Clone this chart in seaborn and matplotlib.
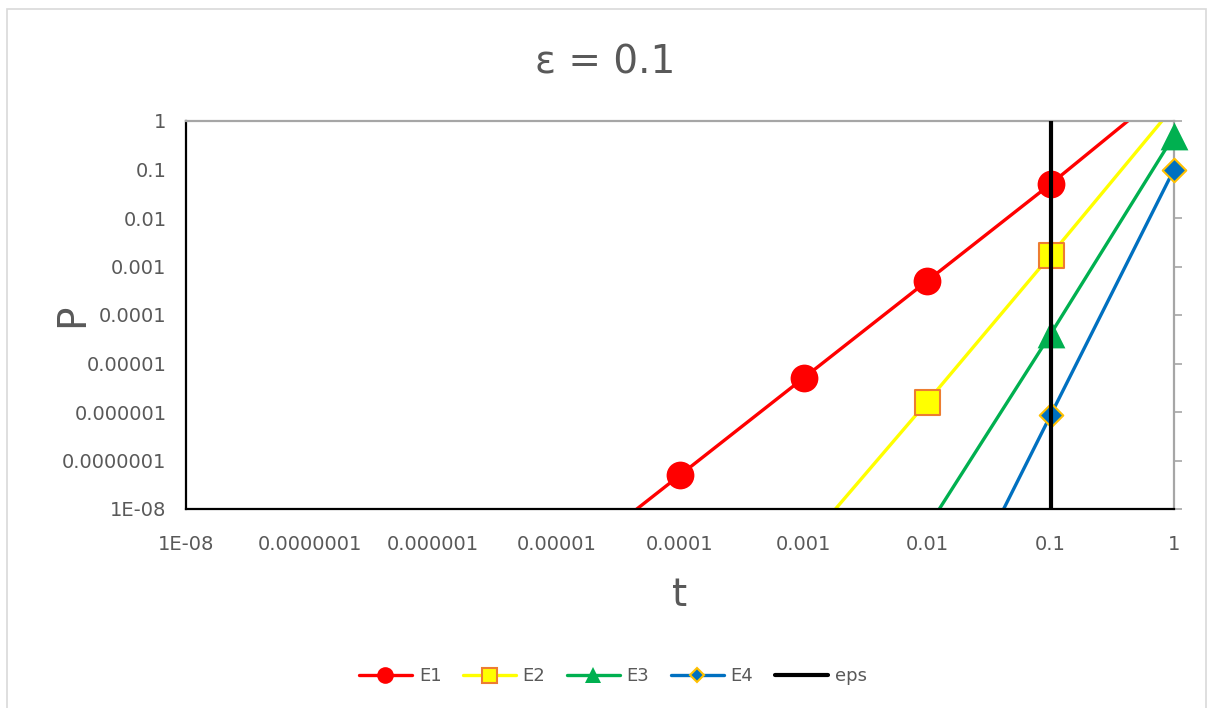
import matplotlib
matplotlib.use('Agg')
import matplotlib.pyplot as plt
import seaborn as sns
from matplotlib.lines import Line2D
from matplotlib.patches import Rectangle

# data (log-log)
t_e1 = [1e-5, 1e-4, 1e-3, 1e-2, 1e-1, 1]
p_e1 = [5e-10, 5e-8, 5e-6, 5e-4, 0.05, 6]
t_e2 = [1e-3, 1e-2, 1e-1, 1]
p_e2 = [1.7e-9, 1.6e-6, 1.7e-3, 2]
t_e3 = [1e-2, 1e-1, 1]
p_e3 = [4e-9, 4e-5, 0.5]
t_e4 = [1e-2, 1e-1, 1]
p_e4 = [7e-12, 8.5e-7, 0.1]
t_eps = [0.1, 0.1]
p_eps = [1e-8, 1]

tick_vals = [1e-8, 1e-7, 1e-6, 1e-5, 1e-4, 1e-3, 1e-2, 1e-1, 1]
tick_labels = ['1E-08', '0.0000001', '0.000001', '0.00001', '0.0001',
               '0.001', '0.01', '0.1', '1']

sns.set_style('white')
plt.rcParams['font.family'] = ['DejaVu Sans']
grey = '#595959'

fig, ax = plt.subplots(figsize=(12.1, 7.08), dpi=100)
fig.subplots_adjust(left=186/1210, right=1174/1210, top=1-121/708, bottom=1-509/708)

series = [
    ('E1', t_e1, p_e1, dict(color='#FF0000', marker='o', ms=20, mec='#FF0000', mew=0)),
    ('E2', t_e2, p_e2, dict(color='#FFFF00', marker='s', ms=18, mec='#ED7D31', mew=1.5)),
    ('E3', t_e3, p_e3, dict(color='#00B050', marker='^', ms=20, mec='#00B050', mew=0)),
    ('E4', t_e4, p_e4, dict(color='#0070C0', marker='D', ms=12, mec='#FFC000', mew=1.5)),
]

handles = []
for name, t, p, st in series:
    sns.lineplot(x=t, y=p, ax=ax, color=st['color'], lw=2.4, sort=False, estimator=None)
    # Excel shows markers only inside the plot area, but unclipped at the edges
    inside = [(a, b) for a, b in zip(t, p) if 1e-8 <= a <= 1 and 1e-8 <= b <= 1]
    sns.scatterplot(x=[a for a, b in inside], y=[b for a, b in inside], ax=ax,
                    color=st['color'], marker=st['marker'], s=st['ms']**2,
                    edgecolor=st['mec'], linewidth=st['mew'], clip_on=False, zorder=3)
    handles.append(Line2D([], [], color=st['color'], lw=2.4, marker=st['marker'],
                          ms=st['ms']*0.6, mfc=st['color'], mec=st['mec'], mew=st['mew']))

sns.lineplot(x=t_eps, y=p_eps, ax=ax, color='black', lw=3, sort=False,
             estimator=None, zorder=4)
handles.append(Line2D([], [], color='black', lw=3))

ax.set_xscale('log')
ax.set_yscale('log')
ax.set_xlim(1e-8, 1)
ax.set_ylim(1e-8, 1)
ax.set_xticks(tick_vals, tick_labels)
ax.set_yticks(tick_vals, tick_labels)
ax.minorticks_off()
ax.tick_params(axis='both', labelsize=14, labelcolor=grey)
ax.tick_params(axis='x', bottom=False, pad=15)
ax.tick_params(axis='y', left=False, right=True, direction='out',
               length=6, color='#A6A6A6', width=1.2, pad=8)

for side in ['left', 'bottom']:
    ax.spines[side].set_color('black')
    ax.spines[side].set_linewidth(1.6)
for side in ['top', 'right']:
    ax.spines[side].set_color('#A6A6A6')
    ax.spines[side].set_linewidth(1.6)

fig.text(605/1210, 1-62/708, 'ε = 0.1', fontsize=28, color=grey, ha='center', va='center')
ax.set_xlabel('t', fontsize=28, color=grey)
ax.xaxis.set_label_coords(0.5, -(595-509)/388)
ax.xaxis.label.set_va('center')
ax.set_ylabel('P', fontsize=28, color=grey)
ax.yaxis.set_label_coords(-(186-72)/988, 0.5)
ax.yaxis.label.set_va('center')

ax.legend(handles, ['E1', 'E2', 'E3', 'E4', 'eps'], loc='center',
          bbox_to_anchor=(613/1210, 1-676/708), bbox_transform=fig.transFigure,
          ncol=5, frameon=False, fontsize=13, labelcolor=grey,
          handlelength=2.9, columnspacing=1.2, handletextpad=0.4)

# chart border
fig.patches.append(Rectangle((7/1210, -0.01), 1199/1210, 1-9/708+0.01,
                             transform=fig.transFigure, fill=False,
                             edgecolor='#D9D9D9', lw=1.2))

plt.savefig('out.png', dpi=100)
